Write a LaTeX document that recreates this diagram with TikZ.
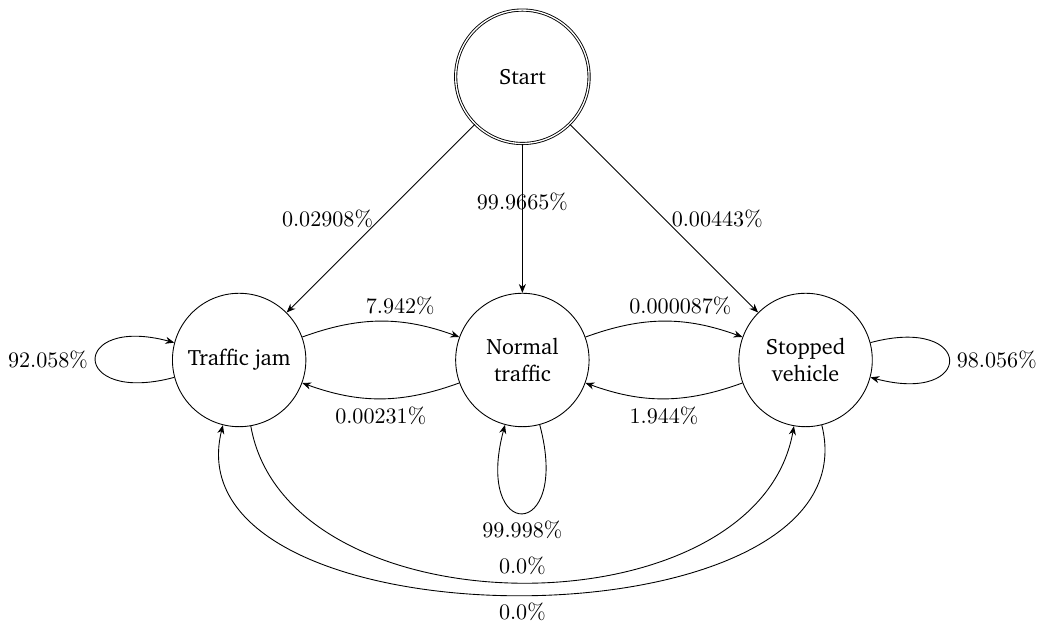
\documentclass[tikz,border=0pt]{standalone}
\usepackage[T1,TU]{fontenc}
\usepackage{tikz}
\usetikzlibrary{arrows.meta,positioning}
\newcommand{\statefont}{\fontencoding{T1}\fontfamily{bch}\selectfont}

\begin{document}
\begin{tikzpicture}[
    markovstate/.style={circle, draw, minimum size=2.12cm, align=center, font=\statefont},
    trans/.style={-{Stealth[length=4pt,width=3.2pt]}},
]
    \useasboundingbox (-3.8,-4.16) rectangle (12.82,5.72);

    % States
    \node[markovstate, double] (start) at (4.5,4.5) {Start};
    \node[markovstate] (jam) at (0,0) {Traffic jam};
    \node[markovstate] (normal) at (4.5,0) {Normal\\traffic};
    \node[markovstate] (stopped) at (9,0) {Stopped\\vehicle};

    % Initial probabilities
    \draw[trans] (start) -- node[left] {$0.02908\%$} (jam);
    \draw[trans] (start) -- node[above] {$99.9665\%$} (normal);
    \draw[trans] (start) -- node[right] {$0.00443\%$} (stopped);

    % Transitions between neighbouring states
    \draw[trans] (jam) to[bend left=20] node[above, pos=0.63] {$7.942\%$} (normal);
    \draw[trans] (normal) to[bend left=20] node[below] {$0.00231\%$} (jam);
    \draw[trans] (normal) to[bend left=20] node[above, pos=0.61] {$0.000087\%$} (stopped);
    \draw[trans] (stopped) to[bend left=20] node[below] {$1.944\%$} (normal);

    % Self loops
    \draw[trans] (jam) to[loop left] node[left] {$92.058\%$} (jam);
    \draw[trans] (normal) to[out=-75, in=-105, loop, looseness=9] node[below] {$99.998\%$} (normal);
    \draw[trans] (stopped) to[loop right] node[right] {$98.056\%$} (stopped);

    % Jam <-> stopped, round the bottom
    \draw[trans] (jam) to[out=-80, in=-100] node[above] {$0.0\%$} (stopped);
    \draw[trans] (stopped) to[out=-76, in=-104] node[below] {$0.0\%$} (jam);
\end{tikzpicture}
\end{document}
